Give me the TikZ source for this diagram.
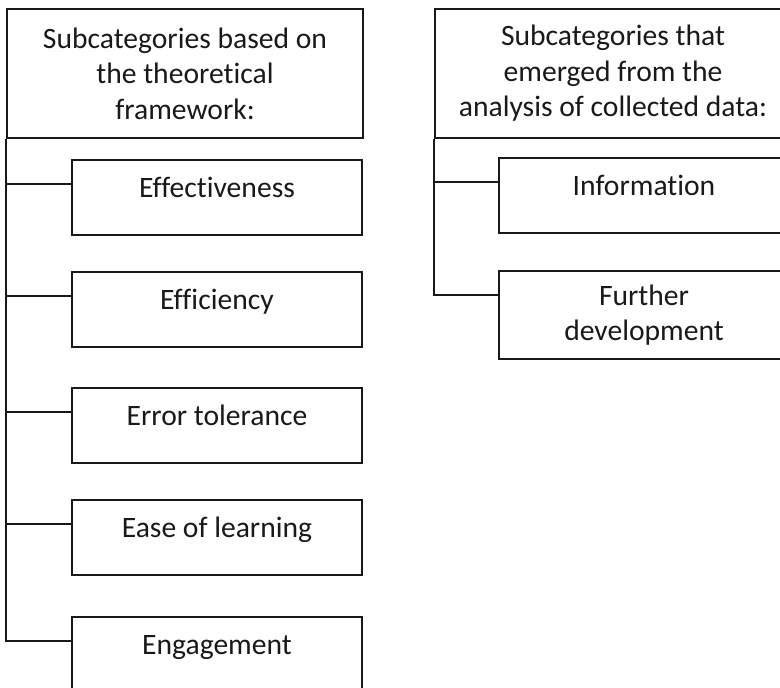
\documentclass[tikz,border=0pt]{standalone}
\usepackage{fontspec}
\setmainfont{Carlito}[Ligatures=NoCommon]
\usetikzlibrary{positioning}
\tikzset{
	framed/.style={draw=black!90, line width=1pt, text=black!90, inner sep=2pt},
	catbox/.style={framed, minimum width=178pt, minimum height=64.5pt, align=center},
	subframe/.style={framed, minimum width=145pt, minimum height=37.5pt},
	subbox/.style={subframe, text height=6pt, text depth=6pt},
	branch/.style={draw=black!90, line width=1pt}
}

\begin{document}
\begin{tikzpicture}[x=0.5pt, y=-0.5pt, font=\fontsize{14.8}{17.8}\selectfont]
	\useasboundingbox (0,0) rectangle (780,688);
	\clip (0,0) rectangle (780,688);
	% left column
	\node[catbox] (lhdr) at (185,73.5) {Subcategories based on\\the theoretical\\framework:};
	\node[subbox] (eff) at (217,197.5) {Effectiveness};
	\node[subbox] (effi) at (217,309.5) {Efficiency};
	\node[subbox] (err) at (217,426) {Error tolerance};
	\node[subbox] (ease) at (217,537.5) {Ease of learning};
	\node[subbox] (eng) at (217,654.5) {Engagement};
	\foreach \n in {eff,effi,err,ease,eng} {
		\draw[branch] (lhdr.south west) |- ([yshift=-12.5pt]\n.north west);
	}
	% right column
	\node[catbox] (rhdr) at (613,73.5) {Subcategories that\\emerged from the\\analysis of collected data:};
	\node[subbox] (info) at (644,195.5) {Information};
	\node[subframe, minimum height=44pt, align=center] (dev) at (644,315) {Further\\development};
	\foreach \n in {info,dev} {
		\draw[branch] (rhdr.south west) |- ([yshift=-12.5pt]\n.north west);
	}
\end{tikzpicture}
\end{document}
